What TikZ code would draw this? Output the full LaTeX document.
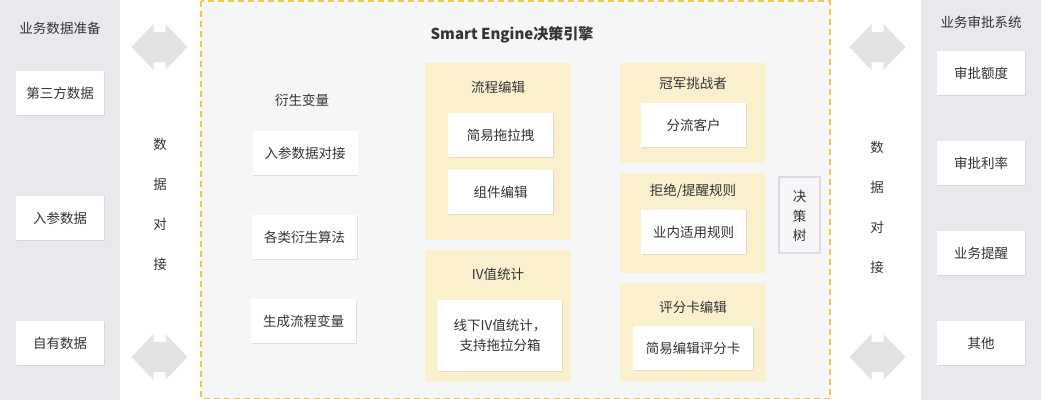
\documentclass[tikz,border=0pt]{standalone}
\usepackage{fontspec}
\setmainfont{Noto Sans CJK SC}
\usetikzlibrary{positioning,shadows}

\definecolor{sidegray}{HTML}{E8E9EC}
\definecolor{corefill}{HTML}{F5F6F8}
\definecolor{dashyellow}{HTML}{F0C850}
\definecolor{modfill}{HTML}{FAF0CE}
\definecolor{txtgray}{HTML}{333333}
\definecolor{arrowgray}{HTML}{E3E3E3}
\definecolor{treeline}{HTML}{DADCE0}

\begin{document}
\begin{tikzpicture}[x=1pt, y=-1pt,
    every node/.style={text=txtgray, font=\fontsize{13.5}{17}\selectfont},
    card/.style={fill=white, minimum width=#1, minimum height=44pt, inner sep=0pt,
      drop shadow={opacity=0.18, shadow xshift=0.6pt, shadow yshift=-1pt}},
    card/.default=88pt,
    module/.style={fill=modfill, minimum width=146pt, minimum height=#1, inner sep=0pt},
    module/.default=100pt]
  \useasboundingbox (0,0) rectangle (1041,400);
  % Draw side panels and engine area
  \fill[sidegray] (0,0) rectangle (120,400);
  \fill[sidegray] (921,0) rectangle (1041,400);
  \draw[dashyellow, line width=1.5pt, dash pattern=on 6pt off 4pt, fill=corefill] (201,1) rectangle (830,398.5);
  % Draw double arrows
  \foreach \cx/\cy in {159.5/47, 159.5/357, 877.5/47, 877.5/357}
    \fill[arrowgray] (\cx-28,\cy) -- (\cx-6,\cy-23) -- (\cx-6,\cy-15) -- (\cx+6,\cy-15) -- (\cx+6,\cy-23)
      -- (\cx+28,\cy) -- (\cx+6,\cy+23) -- (\cx+6,\cy+15) -- (\cx-6,\cy+15) -- (\cx-6,\cy+23) -- cycle;
  \foreach \ch [count=\i] in {数,据,对,接} {
    \node (ldock\i) at (160, 104+40*\i) {\ch};
    \node (rdock\i) at (877, 107+40*\i) {\ch};
  }
  % Left side
  \node (prep) at (60,28) {业务数据准备};
  \node[card] (third) at (60,93) {第三方数据};
  \node[card] (param) at (60,218) {入参数据};
  \node[card] (own) at (60,343) {自有数据};
  % Engine
  \node[font=\fontsize{15}{18}\selectfont\bfseries] (engine) at (512,35) {Smart Engine决策引擎};
  \node (derive) at (302,100) {衍生变量};
  \node[card=105pt] (dock) at (305,153) {入参数据对接};
  \node[card=105pt] (algo) at (304.5,237) {各类衍生算法};
  \node[card=105pt] (genvar) at (303.5,321) {生成流程变量};
  \node[module=177pt] (flow) at (498,151.5) {};
  \node (flowt) at (498,87) {流程编辑};
  \node[card=105pt] (drag) at (500.5,135) {简易拖拉拽};
  \node[card=105pt] (comp) at (500.5,192) {组件编辑};
  \node[module=132pt] (iv) at (498,316) {};
  \node (ivt) at (498,274) {IV值统计};
  \node[card=124pt, minimum height=71pt, align=center, font=\fontsize{13.5}{20}\selectfont] (ivbin) at (500,335.5) {线下IV值统计，\\支持拖拉分箱};
  \node[module] (champ) at (693,113) {};
  \node (champt) at (693,83) {冠军挑战者};
  \node[card=105pt] (split) at (693.5,125) {分流客户};
  \node[module] (reject) at (693,223) {};
  \node (rejectt) at (693,191) {拒绝/提醒规则};
  \node[card=105pt] (rule) at (693.5,232) {业内适用规则};
  \node[module=99pt] (score) at (693,332.5) {};
  \node (scoret) at (693,307) {评分卡编辑};
  \node[card=120pt] (card) at (693,348) {简易编辑评分卡};
  \node[draw=treeline, line width=1.5pt, fill=corefill, minimum width=41pt, minimum height=76pt] (tree) at (799.5,215) {};
  \foreach \ch [count=\i] in {决,策,树}
    \node (tree\i) at (799.5, 177+19.5*\i) {\ch};
  % Right side
  \node (approve) at (981,22) {业务审批系统};
  \node[card] (quota) at (981,73) {审批额度};
  \node[card] (rate) at (981,163) {审批利率};
  \node[card] (remind) at (981,253) {业务提醒};
  \node[card] (other) at (981,343) {其他};
\end{tikzpicture}
\end{document}
